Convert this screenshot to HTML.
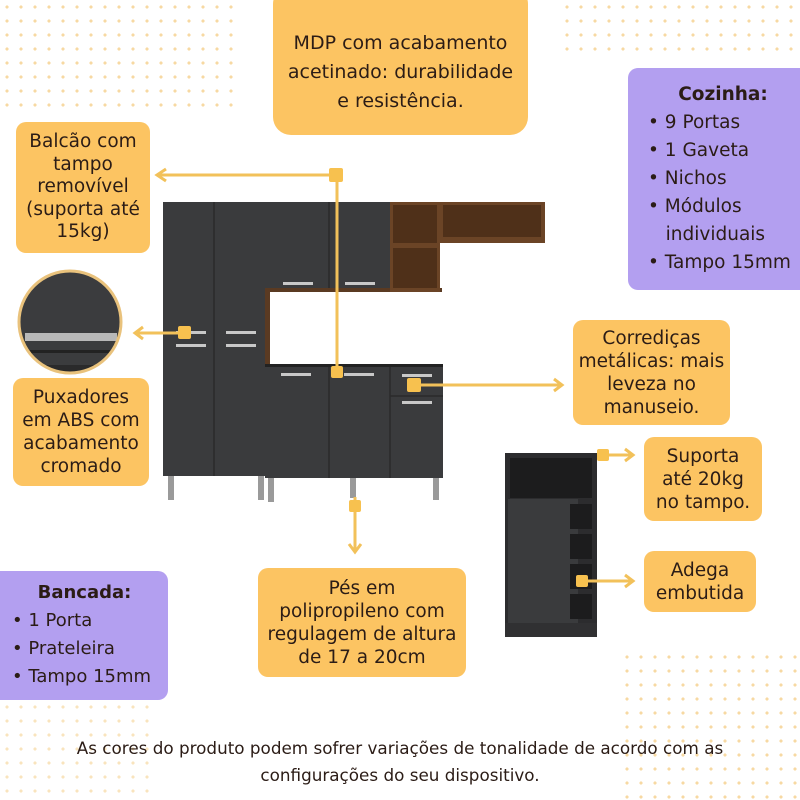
<!DOCTYPE html><html><head><meta charset="utf-8"><style>
body{margin:0;width:800px;height:800px;position:relative;background:#fff;font-family:"DejaVu Sans","Liberation Sans",sans-serif;overflow:hidden;color:#2b1c16}
.b{position:absolute;background:#fcc462;border-radius:10px;text-align:center;display:flex;align-items:center;justify-content:center;font-size:18.5px;line-height:23px;white-space:nowrap}
.p{position:absolute;background:#b39ff0;border-radius:10px;font-size:18.5px;line-height:28px;white-space:nowrap}
.a{position:absolute}
.dots{position:absolute;background-image:radial-gradient(circle,#f3c87a 1.4px,transparent 1.8px);background-size:14px 14px}
</style></head><body>
<div class="dots" style="left:0;top:0;width:240px;height:110px;opacity:.7"></div>
<div class="dots" style="left:560px;top:0;width:240px;height:60px;opacity:.7"></div>
<div class="dots" style="left:620px;top:650px;width:180px;height:150px;opacity:.7"></div>
<div class="dots" style="left:0;top:700px;width:150px;height:100px;opacity:.5"></div>

<svg class="a" style="left:0;top:0" width="800" height="800">
<rect x="163" y="202" width="102" height="274" fill="#3a3b3d"/>
<line x1="214" y1="202" x2="214" y2="476" stroke="#2a2a2b" stroke-width="1.5"/>
<g fill="#c8c8c8"><rect x="176" y="331" width="30" height="3"/><rect x="176" y="344" width="30" height="3"/><rect x="226" y="331" width="30" height="3"/><rect x="226" y="344" width="30" height="3"/></g>
<g fill="#9a9a9a"><rect x="168" y="476" width="6" height="24"/><rect x="258" y="476" width="6" height="24"/><rect x="268" y="478" width="6" height="24"/><rect x="350" y="478" width="6" height="20"/><rect x="433" y="478" width="6" height="22"/></g>
<rect x="265" y="202" width="125" height="90" fill="#3a3b3d"/>
<line x1="329" y1="202" x2="329" y2="290" stroke="#2a2a2b" stroke-width="1.5"/>
<rect x="283" y="282" width="30" height="3" fill="#c8c8c8"/><rect x="345" y="282" width="30" height="3" fill="#c8c8c8"/>
<rect x="265" y="288" width="177" height="4" fill="#5a3a22"/>
<rect x="265" y="290" width="5" height="76" fill="#5a3a22"/>
<rect x="390" y="202" width="50" height="90" fill="#6b4426"/>
<rect x="393" y="205" width="44" height="38" fill="#4f3019"/><rect x="393" y="248" width="44" height="40" fill="#4f3019"/>
<rect x="440" y="202" width="105" height="41" fill="#6b4426"/>
<rect x="443" y="205" width="98" height="32" fill="#4f3019"/>
<rect x="265" y="364" width="178" height="4" fill="#222"/>
<rect x="265" y="367" width="178" height="111" fill="#3a3b3d"/>
<line x1="329" y1="367" x2="329" y2="478" stroke="#2a2a2b" stroke-width="1.5"/>
<line x1="390" y1="367" x2="390" y2="478" stroke="#2a2a2b" stroke-width="1.5"/>
<line x1="390" y1="396" x2="443" y2="396" stroke="#2a2a2b" stroke-width="1.5"/>
<g fill="#c8c8c8"><rect x="281" y="373" width="30" height="3"/><rect x="344" y="373" width="30" height="3"/><rect x="402" y="374" width="30" height="3"/><rect x="402" y="401" width="30" height="3"/></g>
<rect x="505" y="453" width="92" height="184" fill="#2c2c2e"/>
<rect x="510" y="458" width="82" height="40" fill="#1c1c1d"/>
<rect x="508" y="499" width="70" height="124" fill="#3a3b3d"/>
<g fill="#1c1c1d"><rect x="570" y="504" width="22" height="25"/><rect x="570" y="534" width="22" height="25"/><rect x="570" y="564" width="22" height="25"/><rect x="570" y="594" width="22" height="25"/></g>
<rect x="505" y="623" width="92" height="14" fill="#303032"/>
<g stroke="#f2c15a" stroke-width="3" fill="none">
<line x1="337" y1="175" x2="337" y2="372"/><line x1="157" y1="175" x2="337" y2="175"/><polyline points="166,169 157,175 166,181"/>
<line x1="135" y1="333" x2="184" y2="333"/><polyline points="143,327 135,333 143,339"/>
<line x1="414" y1="385" x2="562" y2="385"/><polyline points="554,379 562,385 554,391"/>
<line x1="355" y1="497" x2="355" y2="552"/><polyline points="349,544 355,552 361,544"/>
<line x1="602" y1="455" x2="633" y2="455"/><polyline points="625,449 633,455 625,461"/>
<line x1="580" y1="581" x2="633" y2="581"/><polyline points="625,575 633,581 625,587"/>
</g>
<g fill="#f7c14f"><rect x="329" y="168" width="14" height="14" rx="2"/><rect x="178" y="326" width="13" height="13" rx="2"/><rect x="331" y="366" width="12" height="12" rx="2"/><rect x="407" y="378" width="14" height="14" rx="2"/><rect x="349" y="500" width="12" height="12" rx="2"/><rect x="597" y="449" width="12" height="12" rx="2"/><rect x="576" y="575" width="12" height="12" rx="2"/></g>
<defs><clipPath id="c"><circle cx="70" cy="322" r="51"/></clipPath></defs>
<g clip-path="url(#c)"><rect x="0" y="260" width="150" height="130" fill="#3b3c3e"/><rect x="25" y="333" width="92" height="8" fill="#b8b8b8"/><rect x="0" y="350" width="150" height="3" fill="#222"/><rect x="0" y="365" width="150" height="10" fill="#2a2a2b"/></g>
<circle cx="70" cy="322" r="51" fill="none" stroke="#e9c27c" stroke-width="3"/>
</svg>

<div class="b" style="left:273px;top:-14px;width:255px;height:149px;padding-top:24px;box-sizing:border-box;font-size:19px;line-height:29px;border-radius:18px">MDP com acabamento<br>acetinado: durabilidade<br>e resistência.</div>
<div class="b" style="left:16px;top:122px;width:134px;height:131px;line-height:22.5px">Balcão com<br>tampo<br>removível<br>(suporta até<br>15kg)</div>
<div class="b" style="left:13px;top:378px;width:136px;height:108px">Puxadores<br>em ABS com<br>acabamento<br>cromado</div>
<div class="p" style="left:628px;top:68px;width:172px;height:222px;border-radius:10px 0 0 10px;padding:13px 0 0 20px;box-sizing:border-box"><div style="font-weight:bold;text-align:center;width:150px">Cozinha:</div>• 9 Portas<br>• 1 Gaveta<br>• Nichos<br>• Módulos<br>&nbsp;&nbsp;&nbsp;individuais<br>• Tampo 15mm</div>
<div class="b" style="left:573px;top:320px;width:157px;height:105px">Corrediças<br>metálicas: mais<br>leveza no<br>manuseio.</div>
<div class="b" style="left:644px;top:437px;width:118px;height:84px">Suporta<br>até 20kg<br>no tampo.</div>
<div class="b" style="left:644px;top:551px;width:112px;height:61px">Adega<br>embutida</div>
<div class="b" style="left:258px;top:568px;width:208px;height:109px">Pés em<br>polipropileno com<br>regulagem de altura<br>de 17 a 20cm</div>
<div class="p" style="left:0;top:571px;width:168px;height:129px;border-radius:0 10px 10px 0;padding:8px 0 0 12px;box-sizing:border-box;font-size:18px"><div style="font-weight:bold;text-align:center;width:145px">Bancada:</div>• 1 Porta<br>• Prateleira<br>• Tampo 15mm</div>
<div class="a" style="left:0;top:735px;width:800px;text-align:center;font-size:16.8px;line-height:27px">As cores do produto podem sofrer variações de tonalidade de acordo com as<br>configurações do seu dispositivo.</div>
</body></html>
